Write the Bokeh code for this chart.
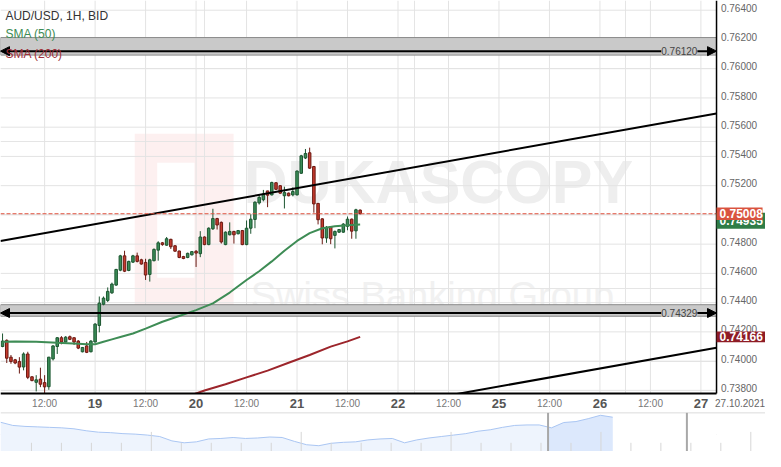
import numpy as np
from bokeh.plotting import figure
from bokeh.models import Range1d, Label, ColumnDataSource, Arrow, NormalHead
from bokeh.core.properties import value
from bokeh.embed import file_html
from bokeh.resources import INLINE

FONT = "Liberation Sans"

# ---------------- data ----------------
# hourly candles, x = trading hours since 18 Oct 2021 00:00 (weekend removed)
hours = list(range(2, 88))
opens = [0.74100, 0.74142, 0.74027, 0.74009, 0.73997, 0.73960, 0.74049, 0.73893, 0.73855, 0.73877,
         0.73853, 0.73825, 0.74015, 0.74100, 0.74160, 0.74131, 0.74167, 0.74160, 0.74137, 0.74064,
         0.74104, 0.74064, 0.74131, 0.74244, 0.74389, 0.74415, 0.74467, 0.74520, 0.74622, 0.74720,
         0.74620, 0.74677, 0.74720, 0.74693, 0.74675, 0.74593, 0.74687, 0.74759, 0.74809, 0.74793,
         0.74833, 0.74789, 0.74753, 0.74715, 0.74709, 0.74727, 0.74751, 0.74735, 0.74849, 0.74797,
         0.74905, 0.74975, 0.74949, 0.74797, 0.74864, 0.74887, 0.74871, 0.74893, 0.74797, 0.74909,
         0.74969, 0.75082, 0.75104, 0.75164, 0.75137, 0.75220, 0.75200, 0.75131, 0.75149, 0.75137,
         0.75137, 0.75285, 0.75389, 0.75425, 0.75331, 0.75079, 0.74973, 0.74842, 0.74920, 0.74860,
         0.74882, 0.74882, 0.74922, 0.74971, 0.74891, 0.75033]
highs = [0.74189, 0.74149, 0.74042, 0.74015, 0.74027, 0.74060, 0.74064, 0.73895, 0.73904, 0.73955,
         0.73904, 0.74029, 0.74109, 0.74164, 0.74171, 0.74171, 0.74175, 0.74162, 0.74144, 0.74097,
         0.74131, 0.74144, 0.74260, 0.74442, 0.74442, 0.74504, 0.74537, 0.74631, 0.74727, 0.74755,
         0.74687, 0.74727, 0.74742, 0.74700, 0.74700, 0.74700, 0.74771, 0.74820, 0.74815, 0.74849,
         0.74837, 0.74792, 0.74755, 0.74720, 0.74742, 0.74753, 0.74760, 0.74889, 0.74853, 0.74915,
         0.75042, 0.74980, 0.74955, 0.74887, 0.74949, 0.74891, 0.74897, 0.74897, 0.74962, 0.75004,
         0.75093, 0.75137, 0.75171, 0.75165, 0.75227, 0.75224, 0.75204, 0.75193, 0.75153, 0.75189,
         0.75304, 0.75411, 0.75451, 0.75460, 0.75335, 0.75082, 0.74977, 0.74924, 0.74922, 0.74893,
         0.74904, 0.74944, 0.74989, 0.74975, 0.75042, 0.75037]
lows = [0.74095, 0.73987, 0.73982, 0.73979, 0.73915, 0.73937, 0.73877, 0.73862, 0.73793, 0.73822,
        0.73769, 0.73804, 0.74004, 0.74049, 0.74115, 0.74127, 0.74144, 0.74111, 0.74082, 0.74060,
        0.74055, 0.74060, 0.74127, 0.74197, 0.74382, 0.74404, 0.74460, 0.74515, 0.74615, 0.74609,
        0.74615, 0.74671, 0.74675, 0.74660, 0.74555, 0.74544, 0.74682, 0.74687, 0.74789, 0.74789,
        0.74767, 0.74749, 0.74704, 0.74697, 0.74704, 0.74722, 0.74644, 0.74711, 0.74793, 0.74793,
        0.74897, 0.74900, 0.74804, 0.74793, 0.74860, 0.74804, 0.74867, 0.74793, 0.74793, 0.74871,
        0.74909, 0.75071, 0.75093, 0.75053, 0.75133, 0.75171, 0.75144, 0.75044, 0.75127, 0.75127,
        0.75133, 0.75280, 0.75382, 0.75315, 0.75015, 0.74935, 0.74799, 0.74809, 0.74800, 0.74771,
        0.74877, 0.74877, 0.74895, 0.74837, 0.74837, 0.75004]
closes = [0.74137, 0.74020, 0.73997, 0.73987, 0.73959, 0.74049, 0.73889, 0.73867, 0.73872, 0.73842,
          0.73824, 0.74027, 0.74104, 0.74160, 0.74131, 0.74164, 0.74149, 0.74131, 0.74089, 0.74093,
          0.74060, 0.74137, 0.74253, 0.74397, 0.74431, 0.74477, 0.74527, 0.74627, 0.74720, 0.74615,
          0.74682, 0.74720, 0.74682, 0.74664, 0.74589, 0.74693, 0.74764, 0.74809, 0.74797, 0.74837,
          0.74782, 0.74752, 0.74709, 0.74702, 0.74737, 0.74749, 0.74739, 0.74849, 0.74797, 0.74909,
          0.74975, 0.74931, 0.74815, 0.74882, 0.74887, 0.74864, 0.74893, 0.74797, 0.74909, 0.74971,
          0.75087, 0.75120, 0.75142, 0.75135, 0.75222, 0.75175, 0.75149, 0.75153, 0.75131, 0.75160,
          0.75300, 0.75404, 0.75420, 0.75320, 0.75075, 0.74967, 0.74842, 0.74915, 0.74837, 0.74887,
          0.74900, 0.74937, 0.74971, 0.74889, 0.75035, 0.75008]

sma50_hours = [2, 5, 10, 15, 20, 22, 24, 26, 28, 30, 33, 36, 40, 44, 48, 52, 56, 60, 63, 66,
               69, 72, 75, 78, 81, 84, 87]
sma50_vals = [0.74133, 0.74135, 0.74132, 0.74125, 0.74119, 0.74115, 0.74115, 0.74132, 0.74149,
              0.74165, 0.74189, 0.74222, 0.74269, 0.74309, 0.74349, 0.74395, 0.74469, 0.74555,
              0.74615, 0.74682, 0.74755, 0.74822, 0.74875, 0.74909, 0.74922, 0.74929, 0.74935]
sma200_hours = [46, 50, 55, 60, 65, 70, 75, 80, 84, 87]
sma200_vals = [0.73759, 0.73799, 0.73842, 0.73889, 0.73935, 0.73989, 0.74042, 0.74099, 0.74135, 0.74166]

upper_trend_hours = [1.5, 171.7]
upper_trend_prices = [0.74822, 0.75694]
lower_trend_hours = [100.0, 171.7]
lower_trend_prices = [0.73724, 0.74092]

level_prices = [0.76120, 0.74329]
band_bottoms = [0.76093, 0.74307]
band_tops = [0.76213, 0.74386]

last_price = 0.75008
sma50_last = 0.74935
sma200_last = 0.74166

price_ticks = [0.738, 0.740, 0.742, 0.744, 0.746, 0.748, 0.750, 0.752, 0.754, 0.756,
               0.758, 0.760, 0.762, 0.764]
day_hours = [24, 48, 72, 96, 120, 144, 168]
day_labels = ["19", "20", "21", "22", "25", "26", "27"]
noon_hours = [12, 36, 60, 84, 108, 132, 156]
noon_labels = ["12:00"] * 7
date_label = "27.10.2021"

nav_vals = [0.75045, 0.7455, 0.7440, 0.74325, 0.7425, 0.74175, 0.74025, 0.73725, 0.7350, 0.73425,
            0.73275, 0.7320, 0.7305, 0.72825, 0.7215, 0.7185, 0.7200, 0.7245, 0.72525, 0.72675,
            0.72525, 0.7260, 0.7275, 0.72675, 0.72075, 0.7155, 0.7140, 0.71775, 0.71925, 0.7200,
            0.7230, 0.7245, 0.72525, 0.7185, 0.7230, 0.7260, 0.72825, 0.7305, 0.73275, 0.7365,
            0.73875, 0.7425, 0.7455, 0.74625, 0.74625, 0.74175, 0.7500, 0.7515, 0.7560, 0.76125,
            0.75825]
nav_idx = list(range(len(nav_vals)))


# ---------------- layout helpers (decor placement only) ----------------
def hx(px):       # horizontal layout position -> hour units
    return (px + 6.5) / 4.295


def pv(py):       # vertical layout position -> price units
    return 0.748 - (py - 252.3) / 15140


PX = 1 / 15140    # one layout pixel in price units

X0, X1 = hx(0), hx(781)
Y0, Y1 = pv(467), pv(0)
x_start, x_end = X0, hx(731)          # price panel
y_bottom, y_top = pv(407), Y1

p = figure(width=765, height=451, x_range=Range1d(X0, X1), y_range=Range1d(Y0, Y1),
           x_axis_location=None, y_axis_location=None, output_backend="svg",
           toolbar_location=None, min_border=0,
           background_fill_color="white", border_fill_color="white")
p.outline_line_color = None
p.extra_x_ranges = {"nav": Range1d(0, 62.48)}
p.extra_y_ranges = {"nav": Range1d(0.7050, 0.7050 + 467 * 0.0015)}

# watermark
p.quad(left=[hx(137)], right=[hx(238)], bottom=[pv(318)], top=[pv(138)],
       fill_color="#fdf0f0", line_color=None, level="image")
p.quad(left=[hx(160)], right=[hx(198)], bottom=[pv(287)], top=[pv(168)],
       fill_color="white", line_color=None, level="image")
p.text(x=[hx(447)], y=[pv(188)], text=["DUKASCOPY"], text_font=value(FONT),
       text_font_style="bold", text_font_size="61px", text_color="#eeeeee",
       text_align="center", text_baseline="middle", level="image")
p.text(x=[hx(441)], y=[pv(306)], text=["Swiss Banking Group"], text_font=value(FONT),
       text_font_size="38px", text_color="#f1f1f1",
       text_align="center", text_baseline="alphabetic", level="image")

# grid
vg = noon_hours + day_hours
p.segment(x0=vg, y0=[y_bottom] * len(vg), x1=vg, y1=[y_top] * len(vg),
          line_color="#e3e3e3", line_width=1)
p.segment(x0=[x_start] * len(price_ticks), y0=price_ticks, x1=[x_end] * len(price_ticks),
          y1=price_ticks, line_color="#e3e3e3", line_width=1)

# support / resistance bands
p.quad(left=x_start, right=x_end, bottom=band_bottoms, top=band_tops,
       fill_color="#c9c9c9", line_color="#8a8a8a", line_width=1)

# candles
up = [c >= o for o, c in zip(opens, closes)]
src = ColumnDataSource(dict(
    x=hours, high=highs, low=lows,
    top=[max(o, c) for o, c in zip(opens, closes)],
    bottom=[min(o, c) for o, c in zip(opens, closes)],
    fill=["#3b8d58" if u else "#c53a2d" for u in up],
    edge=["#1d5631" if u else "#6b1a13" for u in up],
))
p.segment(x0="x", y0="high", x1="x", y1="low", line_color="edge", line_width=1, source=src)
p.vbar(x="x", width=0.6, top="top", bottom="bottom", fill_color="fill",
       line_color="edge", line_width=1, source=src)

# moving averages
p.line(sma50_hours, sma50_vals, line_color="#3e8c55", line_width=2)
p.line(sma200_hours, sma200_vals, line_color="#9c252b", line_width=2)

# trend channel
p.line(upper_trend_hours, upper_trend_prices, line_color="black", line_width=2)
p.line(lower_trend_hours, lower_trend_prices, line_color="black", line_width=2)

# last price dashed line
p.segment(x0=[x_start], y0=[last_price], x1=[x_end], y1=[last_price],
          line_color="#e0533f", line_dash="4 2", line_width=1)

# white mask over the axis areas
p.quad(left=[x_end, X0], right=[X1, x_end], bottom=[Y0, Y0], top=[Y1, y_bottom],
       fill_color="white", line_color=None)

# axis lines
p.segment(x0=[x_end], y0=[y_bottom], x1=[x_end], y1=[y_top], line_color="black", line_width=1.5)
p.segment(x0=[x_start], y0=[y_bottom], x1=[x_end], y1=[y_bottom], line_color="black", line_width=2)

# price axis labels
p.text(x=[hx(735.5)] * len(price_ticks), y=[t + 2.5 * PX for t in price_ticks],
       text=[f"{t:.5f}" for t in price_ticks], text_font=value(FONT), text_font_size="10px",
       text_color="#666666", text_align="left", text_baseline="middle")

# time axis labels
lab_y = pv(417)
p.text(x=day_hours, y=[lab_y] * len(day_hours), text=day_labels, text_font=value(FONT),
       text_font_style="bold", text_font_size="13px", text_color="#555555",
       text_align="center", text_baseline="middle")
p.text(x=noon_hours, y=[lab_y] * len(noon_hours), text=noon_labels, text_font=value(FONT),
       text_font_size="10px", text_color="#777777", text_align="center", text_baseline="middle")
p.text(x=[hx(755)], y=[lab_y], text=[date_label], text_font=value(FONT),
       text_font_size="10px", text_color="#666666", text_align="center", text_baseline="middle")

# price tags: (value, colour, right edge, box above, box below, text shift)
tags = [(sma50_last, "#2f7d47", X1, 12 * PX, 4.6 * PX, 4.4 * PX),
        (last_price, "#d9533f", hx(778), 6.5 * PX, 6.5 * PX, 0.0),
        (sma200_last, "#8e1c26", X1, 5.5 * PX, 5.5 * PX, 0.0)]
for val, col, right, up_h, dn_h, shift in tags:
    p.quad(left=[x_end], right=[right], bottom=[val - dn_h], top=[val + up_h],
           fill_color=col, line_color=None)
    p.text(x=[hx(734)], y=[val + shift], text=[f"{val:.5f}"], text_font=value(FONT),
           text_font_style="bold", text_font_size="12px", text_color="white",
           text_align="left", text_baseline="middle")

# horizontal level arrows and their labels
for lvl in level_prices:
    p.add_layout(Arrow(x_start=x_start, y_start=lvl, x_end=x_end, y_end=lvl,
                       start=NormalHead(size=9, fill_color="black", line_color="black"),
                       end=NormalHead(size=9, fill_color="black", line_color="black"),
                       line_color="black", line_width=2))
    p.add_layout(Label(x=hx(693), y=lvl, text=f"{lvl:.5f}", text_align="center",
                       text_baseline="middle", text_font=FONT, text_font_size="10px",
                       text_color="#444444", background_fill_color="#c9c9c9"))

# legend texts
p.add_layout(Label(x=hx(5), y=pv(15.7), text="AUD/USD, 1H, BID", text_font=FONT,
                   text_font_size="12px", text_color="#333333", text_baseline="middle"))
p.add_layout(Label(x=hx(5), y=pv(35), text="SMA (50)", text_font=FONT,
                   text_font_size="12px", text_color="#3e8c55", text_baseline="middle"))
p.add_layout(Label(x=hx(5), y=pv(55), text="SMA (200)", text_font=FONT,
                   text_font_size="12px", text_color="#a0303a", text_baseline="middle"))

# ---------------- navigator ----------------
NB = 0.7050
nav_top = 0.7650
p.segment(x0=[0], y0=[nav_top], x1=[62.48], y1=[nav_top], line_color="#dcdcdc",
          line_width=1, x_range_name="nav", y_range_name="nav")
p.varea(x=nav_idx, y1=NB, y2=nav_vals, fill_color="#eef4fd",
        x_range_name="nav", y_range_name="nav")
sel_start, sel_end = 44.72, 56.06
sel_x = [sel_start] + nav_idx[45:]
sel_y = [float(np.interp(sel_start, nav_idx, nav_vals))] + nav_vals[45:]
p.varea(x=sel_x, y1=NB, y2=sel_y, fill_color="#dce8fc", x_range_name="nav", y_range_name="nav")
p.line(nav_idx, nav_vals, line_color="#aac6f3", line_width=1, x_range_name="nav", y_range_name="nav")

tick_x = [(1 + 30.6 * k) / 12.5 for k in range(1, 26)]
tick_top = [0.73545 if k % 5 == 0 else 0.7185 for k in range(1, 26)]
p.segment(x0=tick_x, y0=[NB] * len(tick_x), x1=tick_x, y1=tick_top,
          line_color="#d6d6d6", line_width=1, x_range_name="nav", y_range_name="nav")
p.segment(x0=[sel_start, sel_end], y0=[NB, NB], x1=[sel_start, sel_end], y1=[nav_top, nav_top],
          line_color="#a8a8a8", line_width=2, x_range_name="nav", y_range_name="nav")

open("out.html", "w").write(file_html(p, INLINE))
